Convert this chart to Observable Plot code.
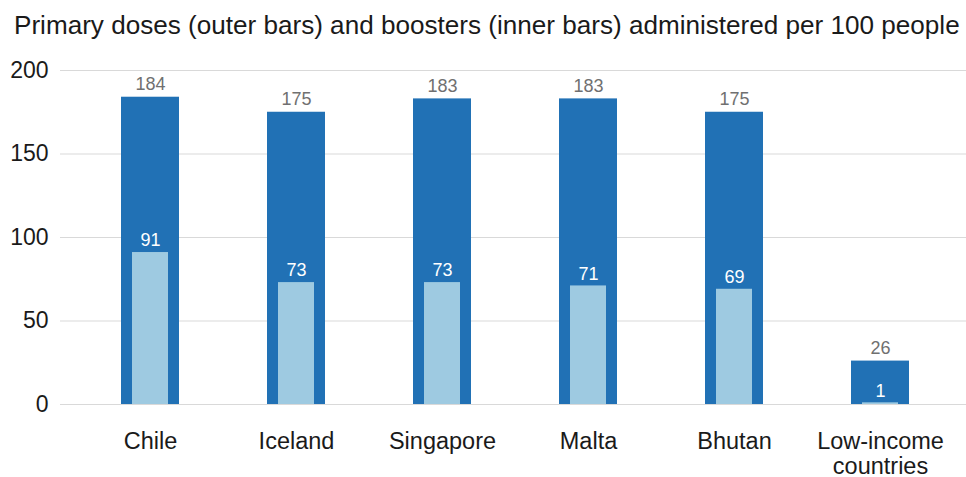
<!DOCTYPE html>
<html>
<head>
<meta charset="utf-8">
<script src="https://cdn.jsdelivr.net/npm/d3@7"></script>
<script src="https://cdn.jsdelivr.net/npm/@observablehq/plot@0.6"></script>
<style>
  body { margin: 0; background: #fff; font-family: "Liberation Sans", Arial, sans-serif; }
  #title { height: 50px; box-sizing: border-box; padding: 10px 0 0 14px; font-size: 26.1px; line-height: 30px; color: #1a1a1a; white-space: nowrap; }
</style>
</head>
<body>
<div id="title">Primary doses (outer bars) and boosters (inner bars) administered per 100 people</div>
<div id="chart"></div>
<script>
const categories = ["Chile", "Iceland", "Singapore", "Malta", "Bhutan", "Low-income countries"];
const primaryDoses = [184, 175, 183, 183, 175, 26];
const boosters = [91, 73, 73, 71, 69, 1];
const yTicks = [0, 50, 100, 150, 200];

const data = categories.map((c, i) => ({ country: c, primary: primaryDoses[i], booster: boosters[i] }));

const chart = Plot.plot({
  width: 966,
  height: 427,
  marginTop: 20,
  marginBottom: 73,
  marginLeft: 60,
  marginRight: 0,
  style: { fontFamily: "'Liberation Sans', Arial, sans-serif", fontSize: "23px", background: "#fff", overflow: "visible" },
  x: {
    domain: categories,
    range: [118.6, 912.4],
    paddingInner: 0.6,
    paddingOuter: 0,
    label: null
  },
  y: { domain: [0, 200], label: null },
  marks: [
    Plot.gridY(yTicks, { stroke: "#d9d9d9", strokeOpacity: 1, strokeWidth: 1 }),
    Plot.axisY(yTicks, { tickSize: 0, tickPadding: 12, fontSize: 23, fill: "#1a1a1a", label: null }),
    Plot.axisX({ tickSize: 0, tickPadding: 27, fontSize: 23.5, fill: "#1a1a1a", label: null,
      tickFormat: d => d === "Low-income countries" ? "Low-income\ncountries" : d, lineHeight: 1.05 }),
    Plot.barY(data, { x: "country", y: "primary", fill: "#2171b5" }),
    Plot.barY(data, { x: "country", y: "booster", fill: "#9ecae1", insetLeft: 11, insetRight: 11 }),
    Plot.text(data, { x: "country", y: "primary", text: d => String(d.primary), dy: -13, fontSize: 18, fill: "#707070" }),
    Plot.text(data, { x: "country", y: "booster", text: d => String(d.booster), dy: -12, fontSize: 18, fill: "#ffffff" })
  ]
});
document.getElementById("chart").appendChild(chart);
</script>
</body>
</html>
